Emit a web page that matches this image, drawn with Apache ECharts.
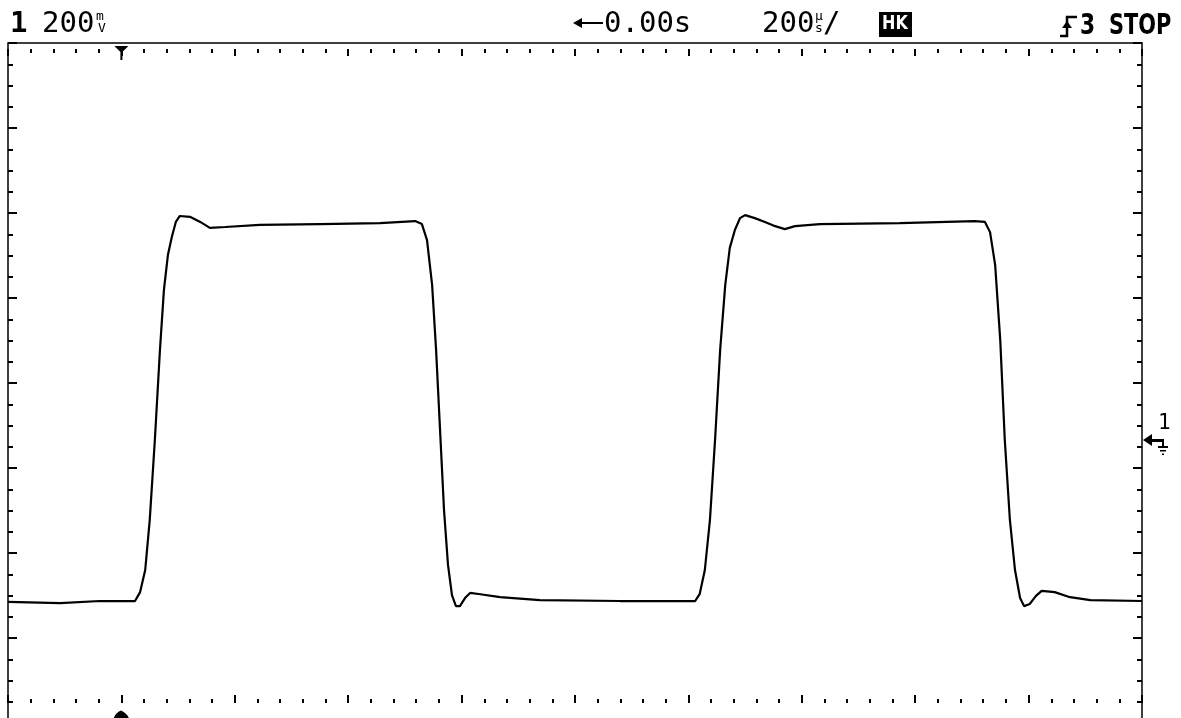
<!DOCTYPE html>
<html>
<head>
<meta charset="utf-8">
<title>scope capture</title>
<script src="https://cdn.jsdelivr.net/npm/echarts@6/dist/echarts.min.js"></script>
<style>
    html, body { margin: 0; padding: 0; background: #fff; }
    #main { width: 1181px; height: 718px; }
</style>
</head>
<body>
<div id="main"></div>
<script>
// trace: time in microseconds, level in volts (0 = screen centre)
var timeUs = [0, 92, 162, 224, 233, 242, 250, 259, 268, 275, 282, 289, 296, 303, 321, 339, 356, 383, 444, 550, 656, 718,
    730, 739, 748, 755, 762, 769, 776, 783, 790, 797, 806, 815, 833, 868, 938, 1079, 1212,
    1220, 1229, 1238, 1247, 1256, 1265, 1273, 1282, 1291, 1300, 1317, 1335, 1353, 1370, 1388, 1432, 1573, 1705, 1723,
    1732, 1741, 1750, 1758, 1767, 1776, 1785, 1792, 1802, 1813, 1823, 1846, 1873, 1909, 2000];
var levelV = [-0.515, -0.518, -0.513, -0.513, -0.492, -0.440, -0.322, -0.134, 0.078, 0.219, 0.301, 0.344, 0.379, 0.393, 0.391, 0.379, 0.365, 0.367, 0.372, 0.374, 0.376, 0.381,
    0.374, 0.336, 0.231, 0.078, -0.111, -0.299, -0.428, -0.499, -0.525, -0.525, -0.506, -0.494, -0.497, -0.504, -0.511, -0.513, -0.513,
    -0.496, -0.440, -0.322, -0.134, 0.078, 0.231, 0.318, 0.360, 0.388, 0.395, 0.388, 0.379, 0.369, 0.362, 0.369, 0.374, 0.376, 0.381, 0.379,
    0.355, 0.278, 0.101, -0.134, -0.322, -0.440, -0.506, -0.525, -0.520, -0.501, -0.489, -0.492, -0.504, -0.511, -0.513];

// screen settings
var timeRange = [0, 2000];      // 10 div x 200 us
var timePerDiv = 200;
var voltRange = [-0.8, 0.8];    // 8 div x 200 mV
var voltPerDiv = 0.2;
var groundV = -0.134;           // channel 1 ground marker
var triggerUs = 200;            // trigger point marker

var chart = echarts.init(document.getElementById('main'));

var traceData = [];
for (var i = 0; i < timeUs.length; i++) {
    traceData.push([timeUs[i], levelV[i]]);
}

var monoFont = "'DejaVu Sans Mono', monospace";
var boldFont = "'DejaVu Sans', sans-serif";

function dotRow(position, offset, majorLen, minorLen) {
    return {
        type: 'value',
        position: position,
        offset: offset,
        min: timeRange[0],
        max: timeRange[1],
        interval: timePerDiv,
        axisLine: {show: false, onZero: false},
        axisLabel: {show: false},
        splitLine: {show: false},
        axisTick: {show: true, inside: true, length: majorLen, lineStyle: {color: '#000', width: 2}},
        minorTick: {show: true, splitNumber: 5, length: minorLen, lineStyle: {color: '#000', width: 2}}
    };
}

function edgeTicks(position) {
    return {
        type: 'value',
        position: position,
        min: voltRange[0],
        max: voltRange[1],
        interval: voltPerDiv,
        axisLine: {show: false, onZero: false},
        axisLabel: {show: false},
        splitLine: {show: false},
        axisTick: {show: true, inside: true, length: 9, lineStyle: {color: '#000', width: 2}},
        minorTick: {show: true, splitNumber: 4, length: 5, lineStyle: {color: '#000', width: 2}}
    };
}

var option = {
    animation: false,
    backgroundColor: '#fff',
    grid: {
        left: 8,
        top: 43,
        width: 1134,
        height: 680,
        outerBoundsMode: 'none',
        containLabel: false,
        show: true,
        borderColor: '#000',
        borderWidth: 1.5,
        backgroundColor: 'transparent'
    },
    xAxis: [dotRow('bottom', -20, 8, 4), dotRow('top', -6, 7, 4)],
    yAxis: [edgeTicks('left'), edgeTicks('right')],
    series: [{
        type: 'line',
        data: traceData,
        showSymbol: false,
        clip: false,
        lineStyle: {color: '#000', width: 2.2},
        markPoint: {
            silent: true,
            data: [
                {
                    // ground reference arrow on the right edge
                    coord: [timeRange[1], groundV],
                    symbol: 'path://M0,25 L9,19 L9,31 Z M9,24 L21,24 L21,27 L9,27 Z M19,27 L21,27 L21,31 L19,31 Z M15,31 L25,31 L25,33 L15,33 Z M17,35 L23,35 L23,36.5 L17,36.5 Z M19,38.5 L21,38.5 L21,40 L19,40 Z',
                    symbolSize: [25, 21],
                    symbolOffset: [13.5, 4.5],
                    itemStyle: {color: '#000'},
                    label: {
                        show: true,
                        position: [15, -21],
                        formatter: '1',
                        color: '#000',
                        fontSize: 21,
                        fontFamily: monoFont
                    }
                },
                {
                    // trigger marker at the top
                    coord: [triggerUs, voltRange[1]],
                    symbol: 'path://M0,0 L14,0 L7,7 Z M6,5 L8,5 L8,14 L6,14 Z',
                    symbolSize: [14, 14],
                    symbolOffset: [0, 10],
                    itemStyle: {color: '#000'},
                    label: {show: false}
                },
                {
                    // trigger marker at the bottom
                    coord: [triggerUs, voltRange[0]],
                    symbol: 'path://M7,0 C11,2 15,5 15,11 L0,11 C0,5 3,2 7,0 Z',
                    symbolSize: [16, 11],
                    symbolOffset: [0, -7],
                    itemStyle: {color: '#000'},
                    label: {show: false}
                }
            ]
        }
    }],
    graphic: [
        {type: 'text', left: 10, top: 10, style: {text: '1', fontSize: 29, fontWeight: 'bold', fontFamily: monoFont, fill: '#000'}},
        {type: 'text', left: 42, top: 10, style: {text: '200', fontSize: 29, fontFamily: monoFont, fill: '#000'}},
        {type: 'text', left: 96, top: 10, style: {text: 'm', fontSize: 13, fontFamily: monoFont, fill: '#000'}},
        {type: 'text', left: 98, top: 22, style: {text: 'V', fontSize: 13, fontFamily: monoFont, fill: '#000'}},
        {
            type: 'polyline',
            shape: {points: [[578, 23], [603, 23]]},
            style: {stroke: '#000', lineWidth: 2, fill: null}
        },
        {type: 'polygon', shape: {points: [[573, 23], [582, 18], [582, 28]]}, style: {fill: '#000'}},
        {type: 'text', left: 604, top: 10, style: {text: '0.00s', fontSize: 29, fontFamily: monoFont, fill: '#000'}},
        {type: 'text', left: 762, top: 10, style: {text: '200', fontSize: 29, fontFamily: monoFont, fill: '#000'}},
        {type: 'text', left: 815, top: 10, style: {text: '\u03bc', fontSize: 13, fontFamily: monoFont, fill: '#000'}},
        {type: 'text', left: 815, top: 22, style: {text: 's', fontSize: 13, fontFamily: monoFont, fill: '#000'}},
        {type: 'text', left: 823, top: 10, style: {text: '/', fontSize: 29, fontFamily: monoFont, fill: '#000'}},
        {type: 'rect', left: 879, top: 12, shape: {width: 33, height: 25}, style: {fill: '#000'}},
        {type: 'text', left: 882, top: 14, scaleX: 0.8, style: {text: 'HK', fontSize: 20, fontWeight: 'bold', fontFamily: boldFont, fill: '#fff'}},
        {
            type: 'polyline',
            shape: {points: [[1060, 36], [1067, 36], [1067, 17], [1077, 17]]},
            style: {stroke: '#000', lineWidth: 2.5, fill: null}
        },
        {type: 'polygon', shape: {points: [[1062, 28], [1067, 21], [1072, 28]]}, style: {fill: '#000'}},
        {type: 'text', x: 1080, y: 12, scaleX: 0.75, style: {text: '3', fontSize: 29, fontWeight: 'bold', fontFamily: boldFont, fill: '#000'}},
        {type: 'text', x: 1109, y: 12, scaleX: 0.72, style: {text: 'STOP', fontSize: 29, fontWeight: 'bold', fontFamily: boldFont, fill: '#000'}}
    ]
};

chart.setOption(option);
</script>
</body>
</html>
